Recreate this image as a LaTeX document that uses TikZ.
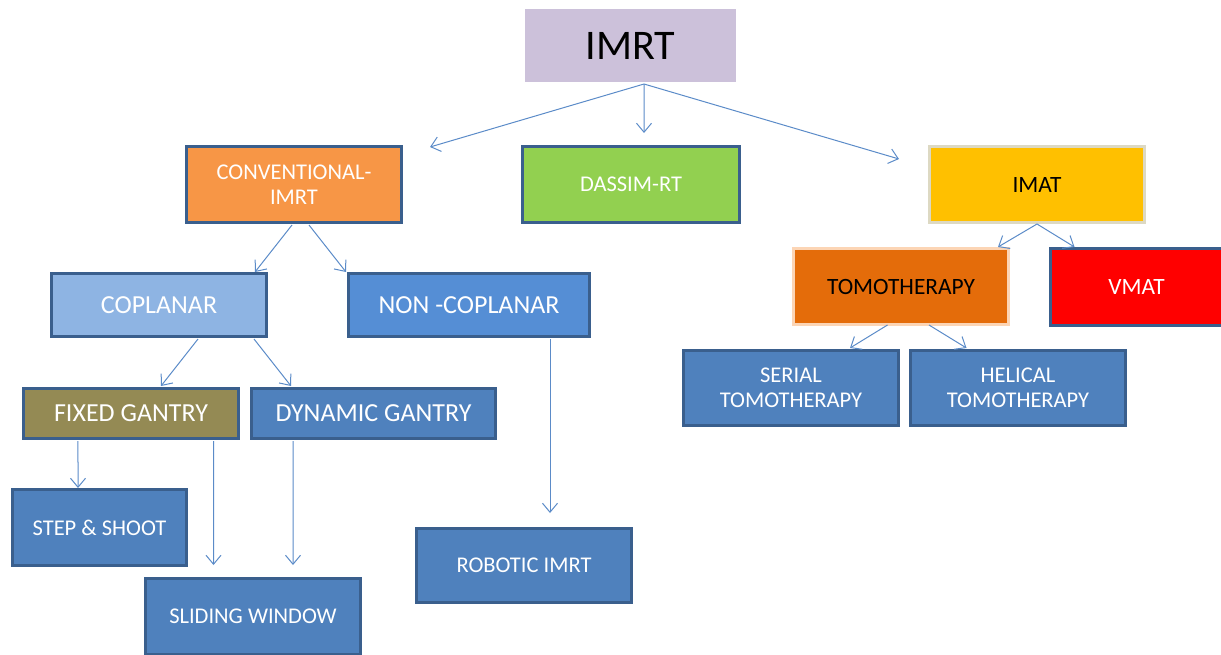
\documentclass[tikz,border=0pt]{standalone}
\usepackage{fontspec}
\setmainfont{Carlito}
\usetikzlibrary{
	arrows.meta,
	calc
}
\definecolor{lavender}{HTML}{CCC1DA}
\definecolor{boxline}{HTML}{3A5F8D}
\definecolor{arrowblue}{HTML}{5B8BC8}
\definecolor{convorange}{HTML}{F79646}
\definecolor{dassimgreen}{HTML}{92D050}
\definecolor{imatyellow}{HTML}{FFC000}
\definecolor{imatline}{HTML}{DDD9C3}
\definecolor{coplanarblue}{HTML}{8EB4E3}
\definecolor{noncopblue}{HTML}{558ED5}
\definecolor{tomoorange}{HTML}{E46C0A}
\definecolor{tomoline}{HTML}{FCD5B5}
\definecolor{midblue}{HTML}{4F81BD}
\definecolor{gantryolive}{HTML}{948A54}
\tikzset{
	techbox/.style={
		rectangle,
		draw=boxline,
		line width=0.6mm,
		fill=midblue,
		text=white,
		align=center,
		inner sep=0pt,
		outer sep=0pt,
		minimum width=43mm,
		minimum height=15.2mm,
		font=\fontsize{12.8}{14.5}\selectfont
	},
	bigtext/.style={
		font=\fontsize{14.8}{16}\selectfont
	},
	midtext/.style={
		font=\fontsize{13.3}{15}\selectfont
	},
	every edge/.append style={
		draw=arrowblue,
		line width=0.2mm,
		-{Straight Barb[length=1.8mm,width=3mm]}
	}
}

\begin{document}
\begin{tikzpicture}[x=0.2mm,y=-0.2mm]
	\useasboundingbox (0,0) rectangle (1221,654);
	\path
		node [techbox,draw=none,fill=lavender,text=black,minimum width=42.2mm,minimum height=14.6mm,
		      font=\fontsize{24}{28}\selectfont]                                  (imrt)    at (630.5,45.5) {IMRT}
		node [techbox,fill=convorange]                                             (conv)    at (294,184.5)  {CONVENTIONAL-\\IMRT}
		node [techbox,fill=dassimgreen,minimum width=43.4mm]                       (dassim)  at (631,184.5)  {DASSIM-RT}
		node [techbox,midtext,fill=imatyellow,draw=imatline,text=black]            (imat)    at (1037,184.5) {IMAT}
		node [techbox,bigtext,fill=coplanarblue,minimum height=12.6mm]             (coplanar) at (159,305)   {COPLANAR}
		node [techbox,bigtext,fill=noncopblue,minimum width=48.2mm,minimum height=12.6mm] (noncop) at (469,305) {NON -COPLANAR}
		node [techbox,midtext,fill=tomoorange,draw=tomoline,text=black]            (tomo)    at (901,286.5)  {TOMOTHERAPY}
		node [techbox,midtext,fill=red,minimum width=34.6mm,minimum height=15.4mm] (vmat)    at (1136.5,287) {VMAT}
		node [techbox,minimum height=15mm]                                         (serial)  at (791,388)    {SERIAL\\TOMOTHERAPY}
		node [techbox,minimum height=15mm]                                         (helical) at (1018,388)   {HELICAL\\TOMOTHERAPY}
		node [techbox,bigtext,fill=gantryolive,minimum height=10mm]                (fixed)   at (131,413.5)  {FIXED GANTRY}
		node [techbox,bigtext,minimum width=48.8mm,minimum height=10mm]            (dynamic) at (373.5,413.5) {DYNAMIC GANTRY}
		node [techbox,minimum width=34.8mm]                                        (step)    at (99.5,527.5) {STEP \& SHOOT}
		node [techbox]                                                             (sliding) at (253,616.5)  {SLIDING WINDOW}
		node [techbox,minimum height=14.8mm]                                       (robotic) at (524,565.5)  {ROBOTIC IMRT}
	;
	\coordinate (fork) at ($(imrt.south)+(13.5,2)$);
	\path
		(fork) edge ($(conv.north east)+(28.5,0.5)$)
		(fork) edge ($(dassim.north)+(13,-13.5)$)
		(fork) edge ($(imat.north west)+(-30.5,12.5)$)

		($(conv.south)+(-2,2.5)$) edge ($(coplanar.north east)+(-11.5,-1.5)$)
		($(conv.south)+(15,2.5)$) edge ($(noncop.north west)+(-2.5,-1.5)$)

		($(coplanar.south)+(39,2.5)$) edge ($(fixed.north)+(30,-2.5)$)
		($(coplanar.south)+(95,2.5)$) edge ($(dynamic.north west)+(39.5,-2.5)$)

		($(fixed.south west)+(54.5,2.5)$) edge ($(step.north)+(-21.5,-1.5)$)
		($(fixed.south east)+(-25,2.5)$) edge ($(sliding.north)+(-39.5,-13.5)$)
		($(dynamic.south west)+(41.5,2.5)$) edge ($(sliding.north)+(40,-13.5)$)

		($(noncop.south)+(81,2.5)$) edge ($(robotic.north)+(26,-15.5)$)

		($(imat.south)+(0,1.5)$) edge ($(tomo.north east)+(-10.5,-1.5)$)
		($(imat.south)+(0,1.5)$) edge ($(vmat.north west)+(24.5,-1.5)$)

		($(tomo.south)+(-13.5,0.5)$) edge ($(serial.north)+(59,-2.5)$)
		($(tomo.south)+(28,0.5)$) edge ($(helical.north west)+(56,-2.5)$)
	;
\end{tikzpicture}
\end{document}
